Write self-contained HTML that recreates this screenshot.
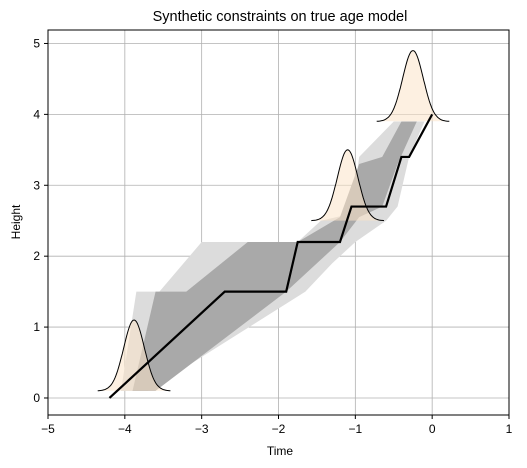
<!DOCTYPE html>
<html><head><meta charset="utf-8"><style>
html,body{margin:0;padding:0;background:#fff;}
svg{display:block;font-family:"Liberation Sans","DejaVu Sans",sans-serif;}
</style></head><body>
<svg id="chart" width="527" height="468" viewBox="0 0 527 468">
<text x="280" y="21" text-anchor="middle" font-size="14.5" fill="#000">Synthetic constraints on true age model</text>
<g id="grid"></g>
<g id="bands"></g>
<g id="gauss"></g>
<g id="line"></g>
<rect x="48" y="30" width="461" height="385" fill="none" stroke="#000" stroke-width="1"/>
<g id="ticks"></g>
<text x="280" y="455" text-anchor="middle" font-size="12">Time</text>
<text x="20" y="222" text-anchor="middle" font-size="12" transform="rotate(-90 20 222)">Height</text>
</svg>
<script>
const xTicks=[-5,-4,-3,-2,-1,0,1];
const yTicks=[0,1,2,3,4,5];
const lineX=[-4.2,-2.7,-1.9,-1.75,-1.2,-1.05,-0.6,-0.4,-0.3,0];
const lineY=[0,1.5,1.5,2.2,2.2,2.7,2.7,3.4,3.4,4];
const lightX=[-4.05,-3.85,-3.55,-3.0,-1.75,-1.45,-1.05,-0.95,-0.5,-0.1,-0.3,-0.45,-0.6,-1.0,-1.3,-1.65,-3.7];
const lightY=[0.1,1.5,1.5,2.2,2.2,2.5,2.6,3.4,3.9,3.9,3.4,2.7,2.5,2.2,1.9,1.5,0.1];
const darkX=[-3.9,-3.6,-3.2,-2.4,-1.75,-1.2,-0.95,-0.65,-0.4,-0.2,-0.45,-0.65,-0.95,-1.2,-1.9,-3.6];
const darkY=[0.1,1.5,1.5,2.2,2.2,2.55,3.3,3.4,3.9,3.9,3.3,2.7,2.55,2.2,1.5,0.1];
const gCenter=[-3.88,-1.1,-0.25];
const gBase=[0.1,2.5,3.9];
const gPeak=[1.0,1.0,1.0];
const gSigma=[0.135,0.135,0.135];
const X0=-5,X1=1,Y0=-0.24,Y1=5.19,L=48,R=509,T=30,B=415;
const sx=v=>L+(v-X0)/(X1-X0)*(R-L);
const sy=v=>B-(v-Y0)/(Y1-Y0)*(B-T);
const NS='http://www.w3.org/2000/svg';
function mk(t,a,p){const e=document.createElementNS(NS,t);for(const k in a)e.setAttribute(k,a[k]);p.appendChild(e);return e;}
const grid=document.getElementById('grid'),ticks=document.getElementById('ticks');
xTicks.forEach(v=>{
 const g=mk('line',{x1:sx(v),x2:sx(v),y1:T,y2:B,stroke:'#b0b0b0','stroke-width':0.8},grid);
 
 
 mk('line',{x1:sx(v),x2:sx(v),y1:B,y2:B+4,stroke:'#000'},ticks);
 const t=mk('text',{x:sx(v),y:B+18,'text-anchor':'middle','font-size':12},ticks);
 t.textContent=(v<0?'\u2212':'')+Math.abs(v);
 
 
});
yTicks.forEach(v=>{
 const g=mk('line',{x1:L,x2:R,y1:sy(v),y2:sy(v),stroke:'#b0b0b0','stroke-width':0.8},grid);
 
 
 mk('line',{x1:L-4,x2:L,y1:sy(v),y2:sy(v),stroke:'#000'},ticks);
 const t=mk('text',{x:L-8,y:sy(v)+4,'text-anchor':'end','font-size':12},ticks);
 t.textContent=v;
 
 
});
const bands=document.getElementById('bands');
const lp=mk('polygon',{points:lightX.map((x,i)=>sx(x)+','+sy(lightY[i])).join(' '),fill:'#dcdcdc'},bands);


const dp=mk('polygon',{points:darkX.map((x,i)=>sx(x)+','+sy(darkY[i])).join(' '),fill:'#a9a9a9'},bands);


const gg=document.getElementById('gauss');
gCenter.forEach((c,i)=>{
 const pts=[];
 for(let k=0;k<=80;k++){const x=c-3.5*gSigma[i]+k*(7*gSigma[i]/80);const y=gBase[i]+gPeak[i]*Math.exp(-0.5*((x-c)/gSigma[i])**2);pts.push(sx(x).toFixed(1)+','+sy(y).toFixed(1));}
 const f=mk('polygon',{points:pts.join(' '),fill:'#fbe3c8','fill-opacity':0.55},gg);
 
 
 const p=mk('polyline',{points:pts.join(' '),fill:'none',stroke:'#000','stroke-width':1},gg);
 
 
});
const ln=mk('polyline',{points:lineX.map((x,i)=>sx(x)+','+sy(lineY[i])).join(' '),fill:'none',stroke:'#000','stroke-width':2.2},document.getElementById('line'));


</script>
</body></html>
